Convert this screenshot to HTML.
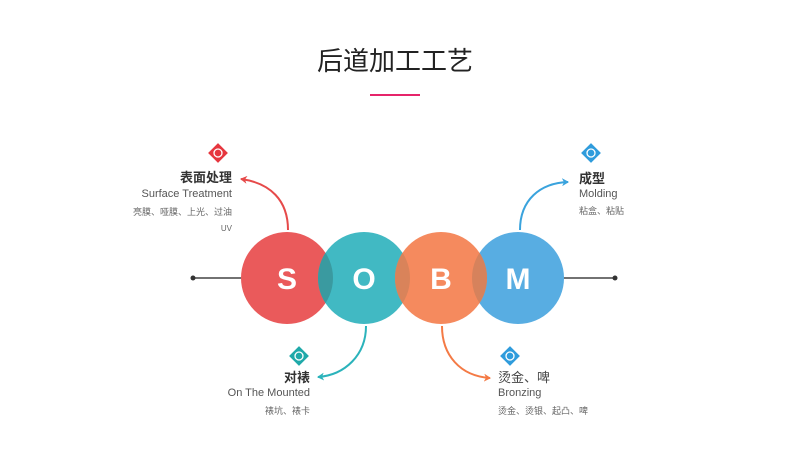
<!DOCTYPE html>
<html><head><meta charset="utf-8"><style>
body{margin:0;background:#fff;width:790px;height:469px;overflow:hidden}
svg text{font-family:"Liberation Sans","Noto Sans CJK SC",sans-serif}
</style></head><body>
<svg width="790" height="469" viewBox="0 0 790 469" xmlns="http://www.w3.org/2000/svg">
<defs>
<marker id="ar" markerWidth="8" markerHeight="8" refX="6" refY="4" orient="auto" markerUnits="userSpaceOnUse"><path d="M0,0 L7,4 L0,8 L2,4z" fill="context-stroke"/></marker>
<clipPath id="cS"><circle cx="287" cy="278" r="46"/></clipPath>
<clipPath id="cO"><circle cx="364" cy="278" r="46"/></clipPath>
<clipPath id="cM"><circle cx="518" cy="278" r="46"/></clipPath>
</defs>
<text x="395" y="70" text-anchor="middle" font-size="26" fill="#222">后道加工工艺</text>
<rect x="370" y="94" width="50" height="2" fill="#e6246a"/>
<line x1="193" y1="278" x2="615" y2="278" stroke="#444" stroke-width="1.5"/>
<circle cx="193" cy="278" r="2.5" fill="#333"/><circle cx="615" cy="278" r="2.5" fill="#333"/>
<circle cx="287" cy="278" r="46" fill="#ea5a5b"/>
<circle cx="364" cy="278" r="46" fill="#41b9c3"/>
<circle cx="364" cy="278" r="46" fill="#3a9aa0" clip-path="url(#cS)"/>
<circle cx="518" cy="278" r="46" fill="#58ade2"/>
<circle cx="441" cy="278" r="46" fill="#f58a5e"/>
<circle cx="441" cy="278" r="46" fill="#d9835a" clip-path="url(#cO)"/>
<circle cx="441" cy="278" r="46" fill="#d6825c" clip-path="url(#cM)"/>
<g font-size="30" font-weight="bold" fill="#fff" text-anchor="middle">
<text x="287" y="289">S</text><text x="364" y="289">O</text><text x="441" y="289">B</text><text x="518" y="289">M</text></g>
<g fill="none" stroke-width="2">
<path d="M288,230 C288,200 270,183 241,179" stroke="#e64a4a" marker-end="url(#ar)"/>
<path d="M520,230 C520,200 540,183 568,182" stroke="#3aa3dd" marker-end="url(#ar)"/>
<path d="M366,326 C366,355 345,375 318,377" stroke="#2bb3bb" marker-end="url(#ar)"/>
<path d="M442,326 C442,355 460,376 490,378" stroke="#f47a45" marker-end="url(#ar)"/>
</g>
<g>
<rect x="211" y="146" width="14" height="14" transform="rotate(45 218 153)" fill="#e6363e"/><circle cx="218" cy="153" r="4" fill="none" stroke="#fff" stroke-width="1.3"/>
<rect x="584" y="146" width="14" height="14" transform="rotate(45 591 153)" fill="#2f9cdc"/><circle cx="591" cy="153" r="4" fill="none" stroke="#fff" stroke-width="1.3"/>
<rect x="292" y="349" width="14" height="14" transform="rotate(45 299 356)" fill="#1fa9a9"/><circle cx="299" cy="356" r="4" fill="none" stroke="#fff" stroke-width="1.3"/>
<rect x="503" y="349" width="14" height="14" transform="rotate(45 510 356)" fill="#2f9cdc"/><circle cx="510" cy="356" r="4" fill="none" stroke="#fff" stroke-width="1.3"/>
</g>
<g text-anchor="end">
<text x="232" y="182" font-size="13" font-weight="bold" fill="#333">表面处理</text>
<text x="232" y="197" font-size="11" fill="#555">Surface Treatment</text>
<text x="232" y="215" font-size="9" fill="#666">亮膜、哑膜、上光、过油</text>
<text x="232" y="231" font-size="8" fill="#666">UV</text>
<text x="310" y="382" font-size="13" font-weight="bold" fill="#333">对裱</text>
<text x="310" y="396" font-size="11" fill="#555">On The Mounted</text>
<text x="310" y="414" font-size="9" fill="#666">裱坑、裱卡</text>
</g>
<text x="579" y="183" font-size="13" font-weight="bold" fill="#333">成型</text>
<text x="579" y="197" font-size="11" fill="#555">Molding</text>
<text x="579" y="214" font-size="9" fill="#666">粘盒、粘贴</text>
<text x="498" y="382" font-size="13" fill="#444">烫金、啤</text>
<text x="498" y="396" font-size="11" fill="#555">Bronzing</text>
<text x="498" y="414" font-size="9" fill="#666">烫金、烫银、起凸、啤</text>
</svg>
</body></html>
